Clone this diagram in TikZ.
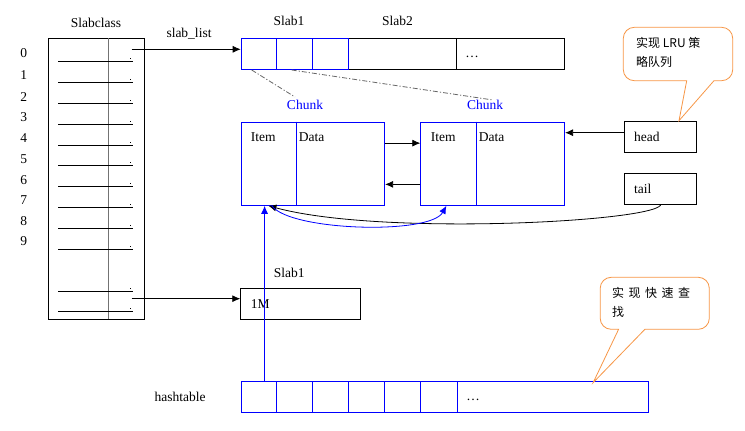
\documentclass[tikz,border=0pt]{standalone}
\usepackage{fontspec}
\setmainfont{Liberation Serif}
\newfontfamily\cjk{Noto Sans CJK SC}
\usetikzlibrary{arrows.meta}
\definecolor{callorange}{RGB}{247,150,70}
\tikzset{
  lbl/.style={font=\fontsize{13.5}{15}\selectfont, inner sep=0pt},
  cjklbl/.style={font=\cjk\fontsize{12}{19}\selectfont, inner sep=0pt, align=left},
  blkbox/.style={draw=black, line width=0.8pt, inner sep=0pt},
  blubox/.style={draw=blue, line width=0.8pt, inner sep=0pt},
  arr/.style={line width=0.8pt, -{Latex[length=8pt,width=7pt]}},
  bluarr/.style={draw=blue, line width=0.8pt, -{Latex[length=8pt,width=7pt]}},
  dashdot/.style={draw=black!60, line width=0.8pt, dash pattern=on 5pt off 2pt on 1.2pt off 2pt},
  callout/.style={draw=callorange, line width=0.8pt, fill=white},
  rowline/.style={line width=0.8pt},
  dotmark/.style={fill=black, inner sep=0pt, minimum size=1pt},
}
\begin{document}
\begin{tikzpicture}[x=1pt,y=-1pt]
\useasboundingbox (0,0) rectangle (745,431);

% ---------- Slabclass ----------
\node[lbl] (sctitle) at (96,22.7) {Slabclass};
\node[blkbox, minimum width=96pt, minimum height=281pt] (sc) at (96.3,178.8) {};
\draw[draw=black!55, line width=1.2pt] (108.3,38.3) -- (108.3,319.3);
\foreach \y [count=\i from 0] in {61.7,82.7,103.3,124,145,165.7,186.7,207.3,228.3,249,291,311.7} {
  \draw[rowline] (58.3,\y) -- (132.7,\y);
  \node[dotmark] (dot\i) at (130.7,\y-3) {};
}
\foreach \n/\y in {0/53.3,1/75,2/96.7,3/117.3,4/138.3,5/159.3,6/180,7/200,8/220.7,9/240.7} {
  \node[lbl] (num\n) at (23.7,\y) {\n};
}
\node[lbl] (sllabel) at (189,33.3) {slab\_list};

% ---------- Slab row ----------
\node[lbl] (slab1t) at (289,21) {Slab1};
\node[lbl] (slab2t) at (397.5,21) {Slab2};
\node[blkbox, minimum width=216pt, minimum height=31pt, anchor=north west] (slabrest) at (348.3,38.3) {};
\draw[line width=0.8pt] (456.7,38.3) -- (456.7,69.3);
\node[lbl] (dots1) at (472,56.5) {\ldots};
\node[blubox, minimum width=35.6pt, minimum height=31pt, anchor=north west] (c1) at (240.7,38.3) {};
\node[blubox, minimum width=36pt, minimum height=31pt, anchor=north west] (c2) at (276.3,38.3) {};
\node[blubox, minimum width=36pt, minimum height=31pt, anchor=north west] (c3) at (312.3,38.3) {};

\coordinate (r0) at (131.7,49.3);
\draw[arr] (r0) -- (r0 -| c1.west);

% ---------- Chunks ----------
\node[lbl, text=blue] (k1) at (305,105) {Chunk};
\node[lbl, text=blue] (k2) at (485,105) {Chunk};
\coordinate (d1s) at (251.7,70);
\coordinate (d1e) at (295,97);
\coordinate (d2s) at (291.7,70);
\coordinate (d2e) at (493,100);
\draw[dashdot] (d1s) -- (d1e);
\draw[dashdot] (d2s) -- (d2e);

\node[blubox, minimum width=143.6pt, minimum height=83.3pt, anchor=north west] (ch1) at (240.7,121.7) {};
\draw[draw=blue, line width=0.8pt] (296.3,121.7) -- (296.3,205);
\node[blubox, minimum width=144pt, minimum height=83.3pt, anchor=north west] (ch2) at (420.3,121.7) {};
\draw[draw=blue, line width=0.8pt] (476.3,121.7) -- (476.3,205);
\node[lbl] (item1) at (263.3,137.3) {Item};
\node[lbl] (data1) at (311.5,137.3) {Data};
\node[lbl] (item2) at (443.3,137.3) {Item};
\node[lbl] (data2) at (491.5,137.3) {Data};

\draw[arr] ([yshift=20.6pt]ch1.east) -- ([yshift=20.6pt]ch2.west);
\draw[arr] ([yshift=-20.6pt]ch2.west) -- ([yshift=-20.6pt]ch1.east);

% ---------- head / tail ----------
\node[blkbox, minimum width=72pt, minimum height=31pt, anchor=north west] (head) at (624.3,121.3) {};
\node[lbl, anchor=west] (headt) at (634,137.3) {head};
\node[blkbox, minimum width=72pt, minimum height=31pt, anchor=north west] (tail) at (624.3,173.3) {};
\node[lbl, anchor=west] (tailt) at (634,188.8) {tail};
\coordinate (hd) at (624.3,132.7);
\draw[arr] (hd) -- (hd -| ch2.east);

\draw[arr] (tail.south) .. controls (650,222) and (380,236) .. ([xshift=-44.5pt]ch1.south);
\draw[bluarr] ([xshift=-41pt]ch1.south) .. controls (290,231) and (430,235) .. ([xshift=-46.3pt]ch2.south);

% ---------- lower Slab1 ----------
\node[lbl] (slab1b) at (289.3,273.3) {Slab1};
\node[blkbox, minimum width=119.7pt, minimum height=31pt, anchor=north west] (m1) at (240.3,288.3) {};
\node[lbl] (onem) at (260.3,304.3) {1M};
\coordinate (r11) at (131.7,298.7);
\draw[arr] (r11) -- (r11 -| m1.west);

% ---------- hashtable ----------
\node[lbl] (htl) at (180.2,397.3) {hashtable};
\node[blubox, minimum width=407.7pt, minimum height=31.3pt, anchor=north west] (ht) at (240.7,381) {};
\foreach \x in {276.4,312.5,348.6,384.7,420.8,456.9} {
  \draw[draw=blue, line width=0.8pt] (\x,381) -- (\x,412.3);
}
\node[lbl] (dots2) at (473,399.5) {\ldots};
\coordinate (hv) at (264.6,381);
\draw[bluarr] (hv) -- (hv |- ch1.south);

% ---------- callouts ----------
\draw[callout] (686.7,80.7) -- (679,120.7) -- (714,80.7) [rounded corners=11pt] -- (732.7,80.7) -- (732.7,27.3) -- (623.3,27.3) -- (623.3,80.7) [sharp corners] -- cycle;
\node[cjklbl, anchor=north west] (co1) at (636,37) {实现 LRU 策\\略队列};

\draw[callout] (618.6,329.3) -- (593.1,382.7) -- (644.9,329.3) [rounded corners=11pt] -- (709.3,329.3) -- (709.3,277.3) -- (600.2,277.3) -- (600.2,329.3) [sharp corners] -- cycle;
\node[cjklbl, anchor=north west] (co2) at (612,287) {实\hspace{4.5pt}现\hspace{4.5pt}快\hspace{4.5pt}速\hspace{4.5pt}查\\找};
\end{tikzpicture}
\end{document}
